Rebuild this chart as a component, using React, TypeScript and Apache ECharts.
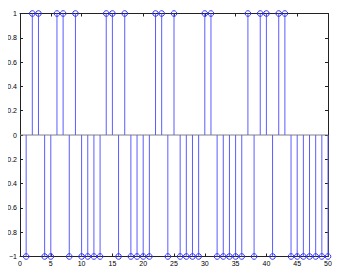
import React, { useEffect, useRef } from "react";
import * as echarts from "echarts";

const samples = [
  1, 2, 3, 4, 5, 6, 7, 8, 9, 10, 11, 12, 13, 14, 15, 16, 17, 18, 19, 20, 21, 22, 23, 24, 25,
  26, 27, 28, 29, 30, 31, 32, 33, 34, 35, 36, 37, 38, 39, 40, 41, 42, 43, 44, 45, 46, 47, 48, 49, 50,
];
const values = [
  -1, 1, 1, -1, -1, 1, 1, -1, 1, -1,
  -1, -1, -1, 1, 1, -1, 1, -1, -1, -1,
  -1, 1, 1, -1, 1, -1, -1, -1, -1, 1,
  1, -1, -1, -1, -1, -1, 1, -1, 1, 1,
  -1, 1, 1, -1, -1, -1, -1, -1, -1, -1,
];
const baseline = [
  [0, 0],
  [50, 0],
];

export default function App() {
  const ref = useRef<HTMLDivElement>(null);
  useEffect(() => {
    if (!ref.current) return;
    const chart = echarts.init(ref.current, undefined, { renderer: "svg" });
    const font = { fontFamily: "Liberation Sans, Arial, sans-serif", fontSize: 7, color: "#000" };
    const stemColor = "#5c5cff";
    const axisCommon = {
      axisLine: { show: true, onZero: false, lineStyle: { color: "#222", width: 1 } },
      axisTick: { show: true, inside: true, length: 3, lineStyle: { color: "#222" } },
      splitLine: { show: false },
    };
    chart.setOption({
      animation: false,
      backgroundColor: "#fff",
      grid: { left: 20, right: 18, top: 13.5, bottom: 21.5 },
      xAxis: [
        {
          type: "value",
          min: 0,
          max: 50,
          interval: 5,
          position: "bottom",
          ...axisCommon,
          axisLabel: { ...font, margin: 3 },
        },
        {
          type: "value",
          min: 0,
          max: 50,
          interval: 5,
          position: "top",
          ...axisCommon,
          axisLabel: { show: false },
        },
      ],
      yAxis: [
        {
          type: "value",
          min: -1,
          max: 1,
          interval: 0.2,
          position: "left",
          ...axisCommon,
          axisLabel: {
            ...font,
            margin: 3,
            formatter: (v: number) => {
              const r = Math.round(v * 10) / 10;
              if (r === 0) return "0";
              return r < 0 ? "\u2212" + String(-r) : String(r);
            },
          },
        },
        {
          type: "value",
          min: -1,
          max: 1,
          interval: 0.2,
          position: "right",
          ...axisCommon,
          axisLabel: { show: false },
        },
      ],
      series: [
        {
          type: "line",
          data: baseline,
          symbol: "none",
          lineStyle: { color: "#808080", width: 1 },
          z: 1,
        },
        {
          type: "custom",
          clip: false,
          z: 3,
          data: samples.map((s, i) => [s, values[i]]),
          renderItem: (params: any, api: any) => {
            const x = api.value(0);
            const v = api.value(1);
            const p0 = api.coord([x, 0]);
            const p1 = api.coord([x, v]);
            return {
              type: "group",
              children: [
                {
                  type: "line",
                  shape: { x1: p0[0], y1: p0[1], x2: p1[0], y2: p1[1] },
                  style: { stroke: stemColor, lineWidth: 1 },
                },
                {
                  type: "circle",
                  shape: { cx: p1[0], cy: p1[1], r: 2.8 },
                  style: { fill: "none", stroke: "#3333ff", lineWidth: 1 },
                },
              ],
            };
          },
        },
      ],
    });
    return () => chart.dispose();
  }, []);
  return <div ref={ref} style={{ width: 346, height: 278, margin: -8 }} />;
}
